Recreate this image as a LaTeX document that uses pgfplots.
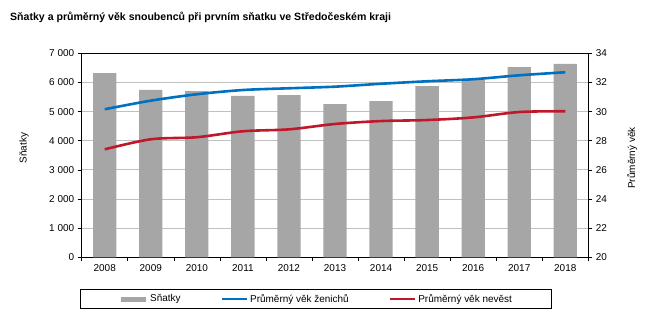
\documentclass[border=0pt]{standalone}
\usepackage{fontspec}
\setmainfont{Liberation Sans}
\usepackage{pgfplots}
\pgfplotsset{compat=1.18}
\definecolor{barg}{HTML}{A6A6A6}
\definecolor{lblue}{HTML}{0070C0}
\definecolor{lred}{HTML}{C0182A}
\definecolor{gridg}{HTML}{C0C0C0}
\pgfplotsset{
  common/.style={
    at={(81.7bp,66.7bp)}, anchor=south west, scale only axis,
    width=506.6bp, height=204bp, xmin=-0.5, xmax=10.5,
    tick align=outside, major tick length=4bp, minor tick length=4bp,
    tick style={black, line width=0.6bp},
    ticklabel style={font=\fontsize{10}{12}\selectfont, black},
    label style={font=\fontsize{10}{12}\selectfont},
    /pgf/number format/assume math mode=true,
    /pgf/number format/1000 sep={\ },
    axis line style={black, line width=0.8bp},
  }
}
\begin{document}
\begin{tikzpicture}[x=1bp,y=1bp]
\path[use as bounding box] (0,0) rectangle (655,324);
\node[anchor=base west, inner sep=0pt, font=\bfseries\fontsize{10.6}{13}\selectfont] at (10,303.5) {Sňatky a průměrný věk snoubenců při prvním sňatku ve Středočeském kraji};
\begin{axis}[common,
  ymin=0, ymax=7000, ytick={0,1000,...,7000},
  ytick pos=left, xtick pos=bottom,
  xtick={0,...,10}, xticklabels={2008,2009,2010,2011,2012,2013,2014,2015,2016,2017,2018},
  major x tick style={draw=none},
  minor xtick={-0.5,0.5,...,10.5},
  minor x tick style={draw=black},
  ymajorgrids, grid style={gridg, line width=0.8bp},
  every axis y label/.style={at={(axis description cs:-0.1139,0.536)}, rotate=90, anchor=center},
  ylabel={Sňatky},
]
\addplot[ybar, bar width=23.3bp, fill=barg, draw=none] coordinates {
(0,6324) (1,5741) (2,5706) (3,5535) (4,5569) (5,5260) (6,5363) (7,5878) (8,6084) (9,6530) (10,6633)};
\end{axis}
\begin{axis}[common,
  ymin=20, ymax=34, ytick={20,22,...,34},
  axis y line*=right, axis x line=none,
  every axis y label/.style={at={(axis description cs:1.0863,0.487)}, rotate=90, anchor=center},
  ylabel={Průměrný věk},
  legend columns=3,
  legend style={at={(axis description cs:0.4625,-0.2044)}, anchor=center,
    draw=black, line width=0.8bp, inner xsep=38bp, inner ysep=3bp,
    font=\fontsize{10}{12}\selectfont,
    /tikz/every even column/.append style={column sep=38bp}},
  legend image code/.code={\draw[#1] (0bp,0bp) -- (25bp,0bp);},
]
\addlegendimage{barg, line width=5bp}
\addlegendentry{Sňatky}
\addplot[lblue, line width=2.6bp, smooth] coordinates {
(0,30.16) (1,30.75) (2,31.19) (3,31.48) (4,31.6) (5,31.71) (6,31.91) (7,32.08) (8,32.22) (9,32.49) (10,32.7)};
\addlegendentry{Průměrný věk ženichů}
\addplot[lred, line width=2.6bp, smooth] coordinates {
(0,27.41) (1,28.1) (2,28.24) (3,28.65) (4,28.78) (5,29.15) (6,29.35) (7,29.42) (8,29.6) (9,29.97) (10,30.02)};
\addlegendentry{Průměrný věk nevěst}
\end{axis}
\end{tikzpicture}
\end{document}
